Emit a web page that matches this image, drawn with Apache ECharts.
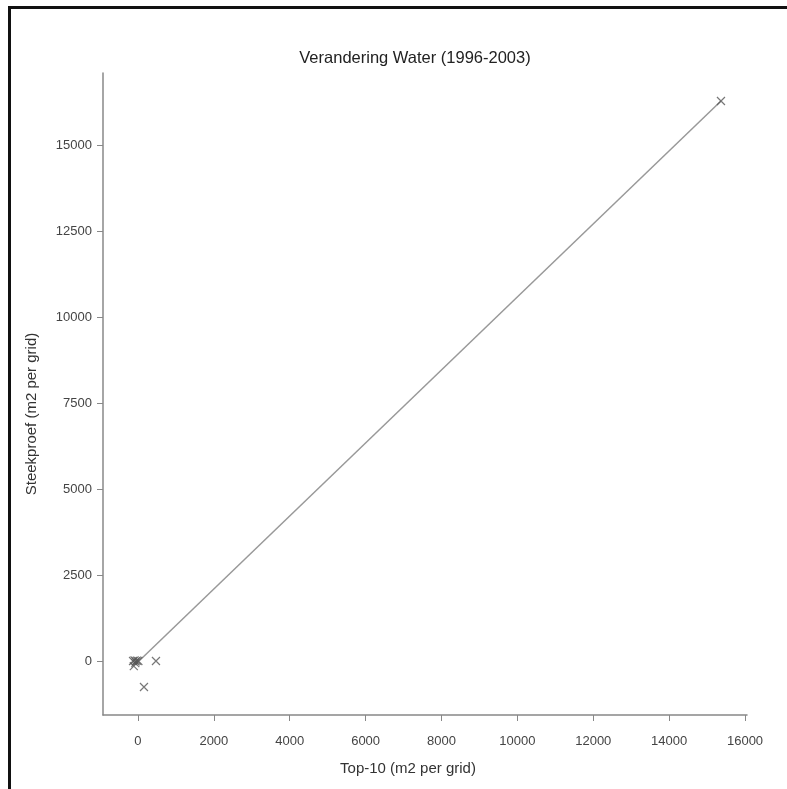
<!DOCTYPE html>
<html><head><meta charset="utf-8">
<script src="https://cdn.jsdelivr.net/npm/echarts@6/dist/echarts.min.js"></script>
<style>html,body{margin:0;padding:0;background:#fff}#c{width:787px;height:789px}</style>
</head><body><div id="c"></div>
<script>
const titleText = 'Verandering Water (1996-2003)';
const xName = 'Top-10 (m2 per grid)';
const yName = 'Steekproef (m2 per grid)';
const xTicks = [0, 2000, 4000, 6000, 8000, 10000, 12000, 14000, 16000];
const yTicks = [0, 2500, 5000, 7500, 10000, 12500, 15000];
const top10 = [-130, -90, -60, -30, 10, -110, -70, 474, 158, 15366];
const steekproef = [0, 20, -10, 10, 0, -150, -60, 0, -756, 16279];
const fitX = [0, 15366];
const fitY = [-27, 16279];

const pts = top10.map((x, i) => [x, steekproef[i]]);
const fit = fitX.map((x, i) => [x, fitY[i]]);
const font = 'Liberation Sans, Arial, sans-serif';
const plain = v => String(v);
const chart = echarts.init(document.getElementById('c'));
chart.setOption({
  animation: false,
  backgroundColor: '#fff',
  title: { text: titleText, left: 410, top: 45, textAlign: 'center',
    textStyle: { fontFamily: font, fontSize: 16.5, fontWeight: 'normal', color: '#222' } },
  grid: { left: 103, right: 40, top: 73, bottom: 74, containLabel: false },
  xAxis: {
    type: 'value', min: -922, max: 16052,
    name: xName, nameLocation: 'middle', nameGap: 46,
    nameTextStyle: { fontFamily: font, fontSize: 15, color: '#333', padding: [0, 34, 0, 0] },
    axisLine: { show: true, onZero: false, lineStyle: { color: '#888', width: 1.5 } },
    axisTick: { show: true, length: 6, lineStyle: { color: '#888' }, customValues: xTicks },
    axisLabel: { fontFamily: font, fontSize: 13, color: '#444', margin: 20, customValues: xTicks, formatter: plain },
    splitLine: { show: false }
  },
  yAxis: {
    type: 'value', min: -1570, max: 17093,
    name: yName, nameLocation: 'middle', nameGap: 64,
    nameTextStyle: { fontFamily: font, fontSize: 15, color: '#333', padding: [0, 40, 0, 0] },
    axisLine: { show: true, onZero: false, lineStyle: { color: '#888', width: 1.5 } },
    axisTick: { show: true, length: 6, lineStyle: { color: '#888' }, customValues: yTicks },
    axisLabel: { fontFamily: font, fontSize: 13, color: '#444', margin: 11, customValues: yTicks, formatter: plain },
    splitLine: { show: false }
  },
  series: [
    { type: 'line', data: fit, symbol: 'none', lineStyle: { color: '#999', width: 1.5 }, z: 2 },
    { type: 'scatter', data: pts, symbol: 'path://M0,0L10,10M10,0L0,10', symbolSize: 8,
      itemStyle: { color: 'none', borderColor: '#555', borderWidth: 1.2 }, z: 3 }
  ],
  graphic: [
    { type: 'rect', shape: { x: 8, y: 6, width: 779, height: 3 }, style: { fill: '#111' } },
    { type: 'rect', shape: { x: 8, y: 6, width: 3, height: 783 }, style: { fill: '#111' } }
  ]
});
</script></body></html>
